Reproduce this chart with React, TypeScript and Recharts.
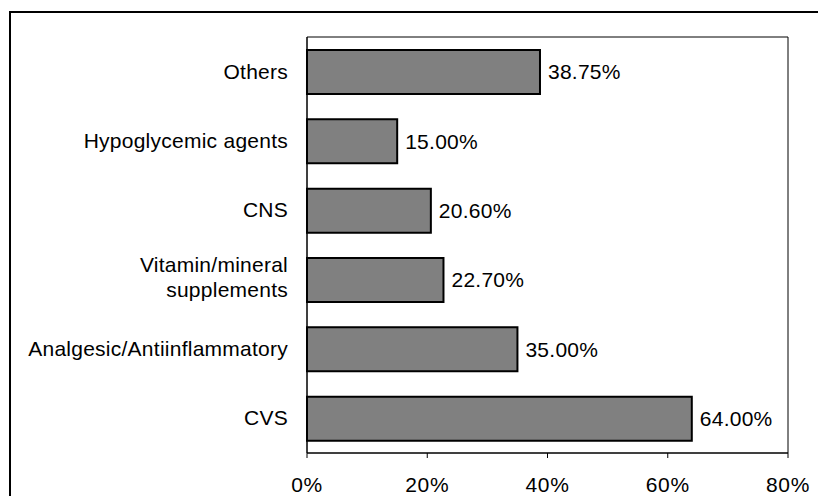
import {
  BarChart,
  Bar,
  XAxis,
  YAxis,
  ReferenceArea,
  LabelList,
} from "recharts";

const categories = [
  "Others",
  "Hypoglycemic agents",
  "CNS",
  "Vitamin/mineral\nsupplements",
  "Analgesic/Antiinflammatory",
  "CVS",
];
const shares = [38.75, 15.0, 20.6, 22.7, 35.0, 64.0];
const xTicks = [0, 20, 40, 60, 80];

const data = categories.map((name, i) => ({ name, share: shares[i] }));

const FONT = "Arial, 'Liberation Sans', sans-serif";

function CategoryTick(props: any) {
  const { x, y, payload } = props;
  const lines = String(payload.value).split("\n");
  const lineH = 25;
  const first = -((lines.length - 1) * lineH) / 2;
  return (
    <text
      x={x}
      y={y}
      textAnchor="end"
      fontSize={21}
      fontFamily={FONT}
      letterSpacing={0.25}
      fill="#000"
    >
      {lines.map((l, i) => (
        <tspan key={i} x={x} dy={i === 0 ? first + (lines.length > 1 ? 5 : 7) : lineH}>
          {l}
        </tspan>
      ))}
    </text>
  );
}

export default function App() {
  return (
    <div
      style={{
        position: "absolute",
        left: 0,
        top: 0,
        width: 818,
        height: 496,
        overflow: "hidden",
        background: "#fff",
      }}
    >
      {/* outer chart frame, runs off the right and bottom edge */}
      <div
        style={{
          position: "absolute",
          left: 9,
          top: 11,
          width: 900,
          height: 600,
          border: "2px solid #000",
        }}
      />
      <div style={{ position: "absolute", left: 0, top: 0 }}>
        <BarChart
          width={818}
          height={496}
          data={data}
          layout="vertical"
          margin={{ top: 37, right: 30, bottom: 0, left: 0 }}
        >
          <XAxis
            type="number"
            domain={[0, 80]}
            ticks={xTicks}
            tickFormatter={(v: number) => `${v}%`}
            axisLine={{ stroke: "#000" }}
            tickLine={{ stroke: "#000" }}
            tickSize={5}
            tickMargin={19}
            height={43}
            tick={{ fill: "#000", fontSize: 21, fontFamily: FONT, letterSpacing: 0.6 }}
          />
          <YAxis
            type="category"
            dataKey="name"
            width={307}
            axisLine={{ stroke: "#000" }}
            tickLine={false}
            tickSize={0}
            tickMargin={19}
            interval={0}
            tick={<CategoryTick />}
          />
          <ReferenceArea
            x1={0}
            x2={80}
            fill="none"
            stroke="#000"
            strokeWidth={1}
          />
          <Bar
            dataKey="share"
            fill="#808080"
            stroke="#000"
            strokeWidth={2}
            barSize={44}
            isAnimationActive={false}
          >
            <LabelList
              dataKey="share"
              position="right"
              offset={8}
              formatter={(v: any) => `${Number(v).toFixed(2)}%`}
              style={{ fill: "#000", fontSize: 21, fontFamily: FONT, letterSpacing: 0.25 }}
            />
          </Bar>
        </BarChart>
      </div>
    </div>
  );
}
